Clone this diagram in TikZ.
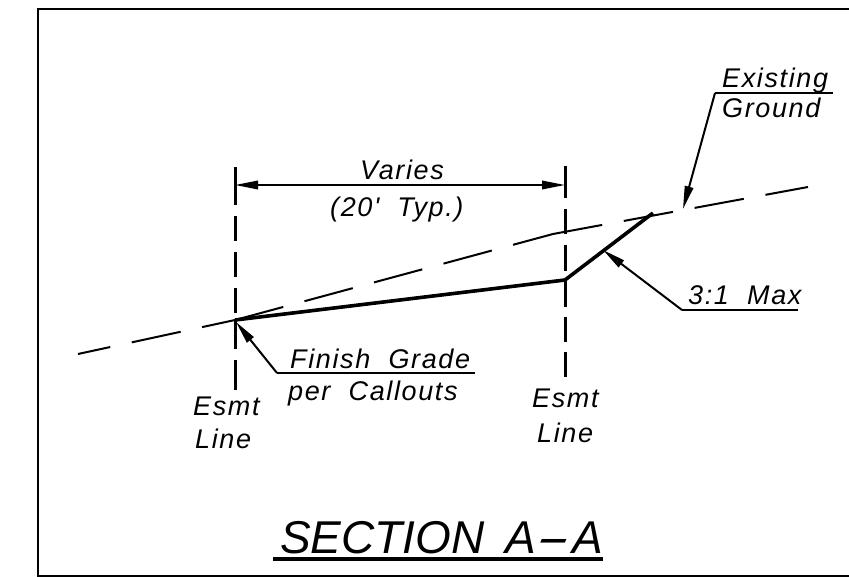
\documentclass[tikz,border=0pt]{standalone}
\usepackage{fontspec}
\setmainfont{Liberation Sans}
\newfontfamily\cadfont{Liberation Sans}[LetterSpace=6,WordSpace=2]
\newfontfamily\cadtitlefont{Liberation Sans}[WordSpace=1.6]
\usetikzlibrary{positioning,arrows.meta}
\begin{document}
\begin{tikzpicture}[x=1pt,y=-1pt,
    smalltext/.style={anchor=base west, inner sep=0pt, font=\fontsize{27}{27}\selectfont\cadfont\itshape},
    titletext/.style={anchor=base west, inner sep=0pt, font=\fontsize{46}{46}\selectfont\cadtitlefont\itshape},
    groundline/.style={line width=2pt, dash pattern=on 50pt off 22pt},
    gradeline/.style={line width=3.6pt},
    leaderline/.style={line width=2pt},
    leaderarrow/.style={line width=2pt, -{Triangle[length=23pt,width=8.5pt]}},
    esmtline/.style={line width=3pt},]
            \useasboundingbox (0,0) rectangle (849,577);
            %Frame
            \coordinate (frame_tr) at (849,9);
            \coordinate (frame_tl) at (37.5,9);
            \coordinate (frame_bl) at (37.5,575.5);
            \coordinate (frame_br) at (849,575.5);
            \draw[line width=2pt](frame_tr)--(frame_tl)--(frame_bl)--(frame_br);

            %Points
            \coordinate (ground_start) at (78,354);
            \coordinate (ground_left) at (235,320);
            \coordinate (ground_bend) at (553,234);
            \coordinate (ground_end) at (808,187);
            \coordinate (grade_top) at (653,213);
            \coordinate (grade_right) at (565,280);
            \coordinate (esmt_left_top) at (235,167);
            \coordinate (esmt_left_bot) at (235,390);
            \coordinate (esmt_right_top) at (565,166);
            \coordinate (esmt_right_bot) at (565,377);
            \coordinate (dim_left) at (235,185);
            \coordinate (dim_right) at (565,185);
            \coordinate (finish_tip) at (236,322);
            \coordinate (finish_knee) at (277,373);
            \coordinate (finish_end) at (475,373);
            \coordinate (existing_tip) at (683,209);
            \coordinate (existing_knee) at (715,93);
            \coordinate (existing_end) at (833,93);
            \coordinate (slope_tip) at (603,250);
            \coordinate (slope_knee) at (682,310);
            \coordinate (slope_end) at (798,310);
            \coordinate (title_left) at (273,559);
            \coordinate (title_right) at (603,559);

            %Nodes
            \node[smalltext](varies) at (360,180){Varies};
            \node[smalltext](typical) at (330,217){(20' Typ.)};
            \node[smalltext](finish) at (290,368){Finish Grade};
            \node[smalltext](callouts) at (288,400){per Callouts};
            \node[smalltext](esmt_left) at (193,415){Esmt};
            \node[smalltext](line_left) at (195,448){Line};
            \node[smalltext](esmt_right) at (532,407){Esmt};
            \node[smalltext](line_right) at (537,442){Line};
            \node[smalltext](existing) at (722,88){Existing};
            \node[smalltext](ground) at (722,118){Ground};
            \node[smalltext](slope) at (688,305){3:1 Max};
            \node[titletext](title) at (280,553){SECTION A\scalebox{2.2}[1]{-}\kern3pt A};

            %Lines
            \draw[groundline, dash phase=17pt](ground_start)--(ground_left);
            \draw[groundline](ground_left)--(ground_bend);
            \draw[groundline](ground_bend)--(ground_end);
            \draw[gradeline](ground_left)--(grade_right)--(grade_top);
            \draw[esmtline, dash pattern=on 38pt off 11pt on 25pt off 11pt on 25pt off 11pt on 25pt off 7pt on 29pt off 11pt on 30pt off 5pt](esmt_left_top)--(esmt_left_bot);
            \draw[esmtline, dash pattern=on 32pt off 11pt on 25pt off 11pt on 26pt off 8pt on 28pt off 10pt on 25pt off 10pt on 25pt off 5pt](esmt_right_top)--(esmt_right_bot);
            \draw[leaderline, {Triangle[length=23pt,width=8.5pt]}-{Triangle[length=23pt,width=8.5pt]}](dim_left)--(dim_right);
            \draw[leaderarrow](finish_knee)--(finish_tip);
            \draw[leaderline](finish_knee)--(finish_end);
            \draw[leaderarrow](existing_knee)--(existing_tip);
            \draw[leaderline](existing_knee)--(existing_end);
            \draw[leaderarrow](slope_knee)--(slope_tip);
            \draw[leaderline](slope_knee)--(slope_end);
            \draw[gradeline](title_left)--(title_right);
\end{tikzpicture}
\end{document}
